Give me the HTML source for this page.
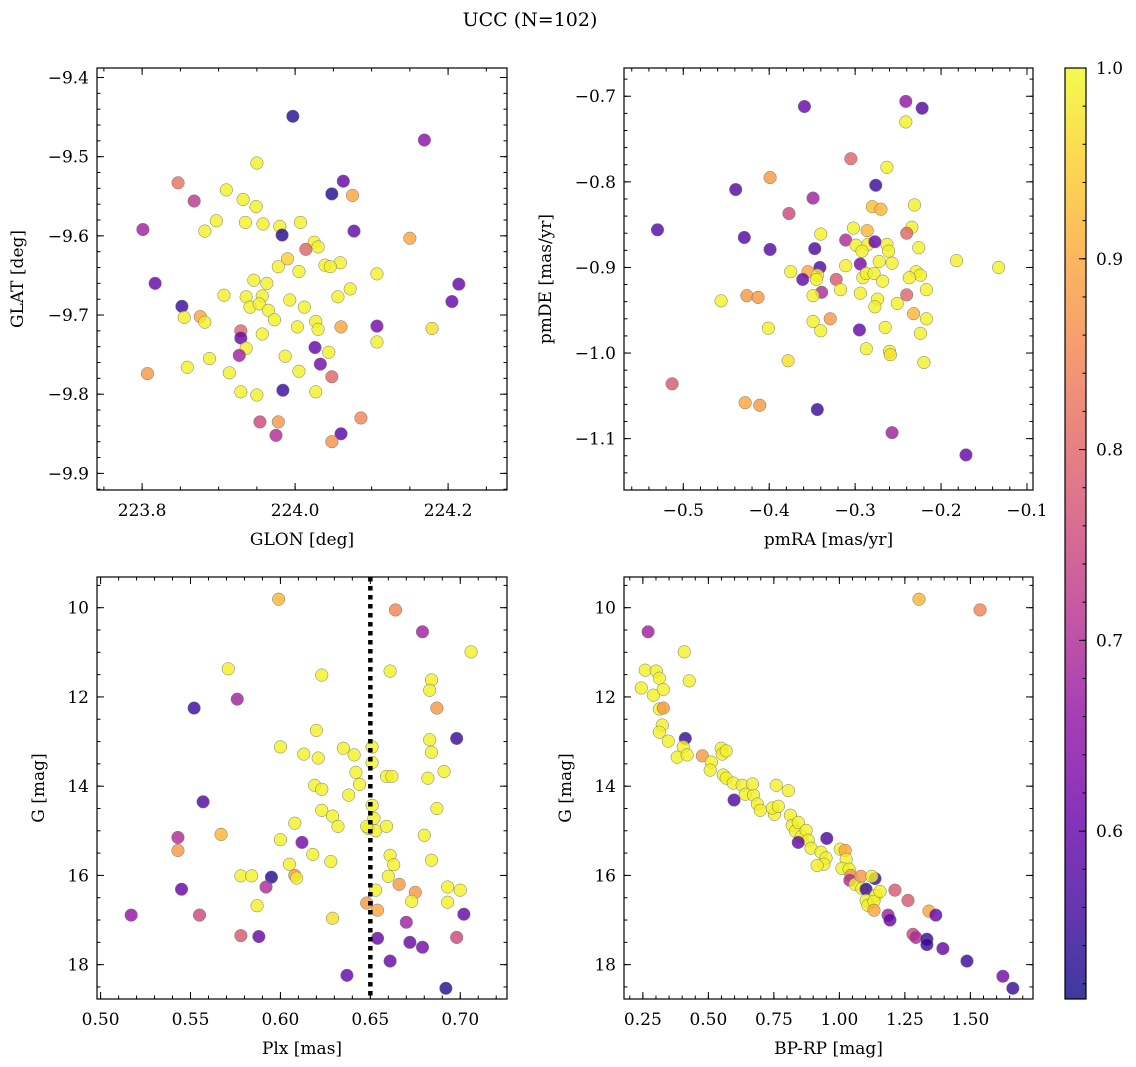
<!DOCTYPE html>
<html><head><meta charset="utf-8">
<style>
html,body{margin:0;padding:0;background:#fff;}
svg{display:block;font-family:"DejaVu Serif","Liberation Serif",serif;}
</style></head>
<body>
<svg id="fig" width="1136" height="1067" viewBox="0 0 1136 1067" xmlns="http://www.w3.org/2000/svg">
<text x="530" y="26" font-size="19" text-anchor="middle">UCC (N=102)</text>
</svg>
<script>
// ---------- data ----------
const glon=[223.997,224.169,223.950,223.847,223.868,224.048,224.063,224.075,223.910,223.932,223.949,223.897,223.801,223.882,223.935,223.958,223.980,223.983,224.007,224.077,224.150,224.025,224.030,224.014,223.990,224.059,224.039,224.046,224.005,223.978,224.107,223.817,224.214,223.946,223.963,224.072,223.907,223.936,223.957,223.993,224.056,223.852,223.855,223.876,223.882,223.941,223.953,223.965,223.973,224.012,224.027,224.030,224.003,224.060,224.107,224.179,224.205,223.957,223.929,223.929,224.107,224.026,224.044,223.936,223.927,223.987,223.888,224.033,223.859,223.914,224.005,224.048,223.807,223.984,223.929,223.950,224.027,224.086,223.954,223.978,224.060,223.975,224.048];
const glat=[-9.449,-9.479,-9.508,-9.533,-9.556,-9.547,-9.531,-9.549,-9.542,-9.554,-9.563,-9.581,-9.592,-9.594,-9.583,-9.585,-9.588,-9.599,-9.583,-9.594,-9.603,-9.608,-9.614,-9.617,-9.629,-9.634,-9.637,-9.639,-9.645,-9.639,-9.648,-9.660,-9.661,-9.656,-9.660,-9.667,-9.675,-9.677,-9.676,-9.681,-9.677,-9.689,-9.703,-9.702,-9.709,-9.690,-9.686,-9.694,-9.706,-9.690,-9.708,-9.718,-9.715,-9.715,-9.714,-9.717,-9.683,-9.724,-9.720,-9.729,-9.734,-9.741,-9.747,-9.742,-9.751,-9.752,-9.755,-9.762,-9.766,-9.773,-9.771,-9.778,-9.774,-9.795,-9.797,-9.801,-9.797,-9.830,-9.835,-9.835,-9.850,-9.852,-9.860];
const prob1=[0.53,0.65,0.99,0.82,0.72,0.53,0.6,0.9,0.99,0.99,0.99,0.99,0.68,0.99,0.99,0.99,0.99,0.53,0.99,0.6,0.9,0.99,0.99,0.8,0.95,0.99,0.99,0.99,0.99,0.99,0.99,0.6,0.6,0.99,0.99,0.99,0.99,0.99,0.99,0.99,0.99,0.55,0.99,0.9,0.99,0.99,0.99,0.99,0.99,0.99,0.99,0.99,0.99,0.9,0.62,0.97,0.6,0.99,0.8,0.6,0.99,0.6,0.99,0.99,0.68,0.99,0.99,0.62,0.99,0.99,0.99,0.8,0.88,0.55,0.99,0.99,0.99,0.85,0.75,0.88,0.58,0.7,0.87];

const pmra=[-0.359,-0.241,-0.222,-0.241,-0.305,-0.263,-0.399,-0.276,-0.439,-0.349,-0.280,-0.270,-0.231,-0.377,-0.302,-0.286,-0.234,-0.530,-0.240,-0.340,-0.429,-0.399,-0.347,-0.311,-0.299,-0.285,-0.263,-0.261,-0.226,-0.292,-0.277,-0.272,-0.257,-0.182,-0.133,-0.341,-0.294,-0.311,-0.375,-0.355,-0.344,-0.361,-0.345,-0.322,-0.291,-0.287,-0.229,-0.224,-0.278,-0.268,-0.237,-0.217,-0.339,-0.294,-0.317,-0.456,-0.426,-0.413,-0.349,-0.274,-0.240,-0.277,-0.251,-0.232,-0.217,-0.329,-0.349,-0.401,-0.340,-0.295,-0.265,-0.224,-0.287,-0.260,-0.259,-0.220,-0.378,-0.513,-0.428,-0.411,-0.344,-0.257,-0.171];
const pmde=[-0.712,-0.706,-0.714,-0.730,-0.773,-0.783,-0.795,-0.804,-0.809,-0.819,-0.829,-0.832,-0.827,-0.837,-0.854,-0.857,-0.853,-0.856,-0.860,-0.861,-0.865,-0.879,-0.878,-0.868,-0.874,-0.873,-0.873,-0.881,-0.877,-0.881,-0.870,-0.893,-0.895,-0.892,-0.900,-0.900,-0.896,-0.898,-0.905,-0.905,-0.909,-0.914,-0.914,-0.914,-0.912,-0.907,-0.905,-0.909,-0.907,-0.916,-0.912,-0.926,-0.929,-0.930,-0.926,-0.939,-0.933,-0.935,-0.933,-0.937,-0.932,-0.946,-0.942,-0.954,-0.960,-0.960,-0.963,-0.971,-0.974,-0.973,-0.970,-0.977,-0.995,-0.998,-1.002,-1.011,-1.009,-1.036,-1.058,-1.061,-1.066,-1.093,-1.119];
const prob2=[0.6,0.66,0.58,0.99,0.8,0.99,0.88,0.55,0.58,0.68,0.93,0.92,0.99,0.75,0.99,0.92,0.99,0.58,0.8,0.99,0.58,0.58,0.57,0.7,0.99,0.99,0.99,0.99,0.99,0.99,0.6,0.99,0.99,0.99,0.99,0.57,0.62,0.99,0.99,0.9,0.99,0.6,0.99,0.78,0.99,0.99,0.99,0.99,0.99,0.99,0.99,0.99,0.7,0.99,0.99,0.99,0.88,0.88,0.99,0.99,0.8,0.99,0.99,0.92,0.99,0.88,0.99,0.99,0.99,0.6,0.99,0.99,0.99,0.99,0.97,0.99,0.97,0.78,0.9,0.88,0.55,0.68,0.6];

const plx=[0.599,0.664,0.679,0.706,0.571,0.661,0.623,0.576,0.684,0.683,0.552,0.687,0.620,0.698,0.684,0.600,0.683,0.613,0.621,0.635,0.641,0.651,0.651,0.642,0.659,0.662,0.682,0.644,0.691,0.619,0.623,0.557,0.638,0.608,0.623,0.629,0.651,0.652,0.649,0.653,0.648,0.632,0.659,0.680,0.687,0.612,0.567,0.543,0.543,0.600,0.618,0.605,0.628,0.661,0.663,0.684,0.578,0.587,0.595,0.608,0.609,0.660,0.666,0.693,0.545,0.592,0.653,0.700,0.675,0.673,0.693,0.584,0.648,0.654,0.555,0.517,0.629,0.702,0.670,0.578,0.588,0.654,0.698,0.672,0.679,0.661,0.637,0.692];
const g3=[9.81,10.05,10.54,10.99,11.37,11.42,11.51,12.05,11.62,11.85,12.25,12.25,12.75,12.93,13.24,13.12,12.96,13.28,13.37,13.15,13.30,13.12,13.47,13.69,13.78,13.78,13.82,13.96,13.67,13.98,14.07,14.35,14.20,14.83,14.54,14.67,14.43,14.72,14.95,15.00,14.90,14.90,14.90,15.10,14.50,15.26,15.08,15.15,15.44,15.20,15.53,15.75,15.69,15.55,15.76,15.66,16.01,16.68,16.04,16.00,16.06,16.02,16.20,16.26,16.31,16.26,16.33,16.33,16.38,16.58,16.60,16.01,16.62,16.78,16.89,16.89,16.96,16.87,17.05,17.35,17.37,17.41,17.39,17.50,17.61,17.92,18.24,18.53];
const prob3=[0.92,0.85,0.68,0.99,0.99,0.99,0.99,0.68,0.99,0.99,0.55,0.88,0.99,0.55,0.99,0.99,0.99,0.99,0.99,0.99,0.99,0.99,0.99,0.99,0.99,0.99,0.99,0.99,0.99,0.99,0.99,0.57,0.99,0.99,0.99,0.99,0.99,0.99,0.99,0.99,0.99,0.99,0.99,0.99,0.99,0.62,0.92,0.7,0.88,0.99,0.99,0.99,0.99,0.99,0.99,0.99,0.99,0.99,0.53,0.88,0.99,0.99,0.88,0.99,0.6,0.7,0.99,0.99,0.88,0.99,0.99,0.99,0.88,0.9,0.75,0.66,0.97,0.6,0.68,0.78,0.6,0.6,0.75,0.6,0.62,0.6,0.6,0.53];

const bprp=[0.270,1.304,1.537,0.259,0.244,0.301,0.313,0.408,0.427,0.290,0.328,0.313,0.328,0.324,0.313,0.347,0.412,0.404,0.381,0.419,0.477,0.511,0.507,0.549,0.553,0.568,0.557,0.568,0.595,0.629,0.598,0.641,0.672,0.668,0.687,0.698,0.752,0.744,0.759,0.767,0.805,0.813,0.820,0.832,0.843,0.854,0.873,0.881,0.892,0.843,0.930,0.949,0.941,0.915,0.952,1.003,1.022,1.026,1.010,1.037,1.044,1.040,1.060,1.082,1.086,1.102,1.136,1.124,1.139,1.102,1.109,1.132,1.155,1.132,1.212,1.262,1.342,1.186,1.193,1.368,1.281,1.292,1.334,1.334,1.395,1.487,1.624,1.662];
const g4=[10.54,9.81,10.05,11.40,11.80,11.42,11.58,10.99,11.64,11.96,11.83,12.27,12.25,12.63,12.79,12.99,12.93,13.12,13.35,13.30,13.32,13.46,13.64,13.15,13.28,13.21,13.75,13.82,13.93,13.98,14.31,14.18,14.20,13.95,14.40,14.54,14.63,14.49,13.98,14.45,14.10,14.65,14.88,15.01,14.81,15.13,14.99,15.21,15.39,15.26,15.48,15.61,15.75,15.78,15.17,15.41,15.44,15.64,15.84,15.86,16.00,16.11,16.20,16.02,16.29,16.31,16.07,16.02,16.45,16.56,16.67,16.58,16.36,16.78,16.33,16.56,16.80,16.89,17.00,16.89,17.32,17.39,17.43,17.55,17.64,17.92,18.26,18.53];
const prob4=[0.68,0.92,0.85,0.99,0.99,0.99,0.99,0.99,0.99,0.99,0.99,0.99,0.88,0.99,0.99,0.99,0.55,0.99,0.99,0.99,0.88,0.99,0.99,0.99,0.99,0.99,0.99,0.99,0.99,0.99,0.57,0.99,0.99,0.99,0.99,0.99,0.99,0.99,0.99,0.99,0.99,0.99,0.99,0.99,0.99,0.99,0.99,0.99,0.99,0.6,0.99,0.99,0.99,0.99,0.57,0.99,0.9,0.99,0.99,0.99,0.88,0.7,0.99,0.88,0.99,0.55,0.55,0.99,0.99,0.99,0.99,0.99,0.99,0.9,0.78,0.78,0.9,0.68,0.6,0.6,0.75,0.7,0.55,0.55,0.6,0.55,0.62,0.55];

const cbTicks=[0.6,0.7,0.8,0.9,1.0];
const VMIN=0.512, VMAX=1.0;

// ---------- helpers ----------
const NS="http://www.w3.org/2000/svg";
const svg=document.getElementById('fig');
function mk(tag,attrs,parent){const e=document.createElementNS(NS,tag);for(const k in attrs)e.setAttribute(k,attrs[k]);(parent||svg).appendChild(e);return e;}
const stops=[[13,8,135],[65,4,157],[106,0,168],[143,13,164],[177,42,144],[204,71,120],[225,100,98],[242,132,75],[252,166,54],[252,206,37],[240,249,33]];
function plasma(t){t=Math.max(0,Math.min(1,t));const f=t*10,i=Math.min(9,Math.floor(f)),u=f-i;const a=stops[i],b=stops[i+1];return 'rgb('+a.map((v,k)=>Math.round(v+(b[k]-v)*u)).join(',')+')';}
function cnorm(v){return (v-VMIN)/(VMAX-VMIN);}
function fmt(v,d){const s=Math.abs(v).toFixed(d);return (v<-1e-9?'\u2212':'')+s;}

function panel(o){
  const g=mk('g',{});
  
  
  const sx=v=>o.L+(v-o.x0)/(o.x1-o.x0)*(o.R-o.L);
  const sy=v=>o.T+(v-o.y0)/(o.y1-o.y0)*(o.B-o.T);
  const pg=mk('g',{},g);
  
  
  for(let i=0;i<o.xs.length;i++){
    const c=mk('circle',{cx:sx(o.xs[i]),cy:sy(o.ys[i]),r:6.3,fill:plasma(cnorm(o.cs[i])),'fill-opacity':0.8,stroke:'#777','stroke-width':0.5},pg);
    
    
  }
  if(o.vline!==undefined){
    const l=mk('line',{x1:sx(o.vline),x2:sx(o.vline),y1:o.T,y2:o.B,stroke:'#000','stroke-width':4.5,'stroke-dasharray':'4.5 4.5'},g);
    
    
  }
  const fr=mk('rect',{x:o.L,y:o.T,width:o.R-o.L,height:o.B-o.T,fill:'none',stroke:'#000','stroke-width':1.2},g);
  
  
  const tg=mk('g',{stroke:'#000','stroke-width':1},g);
  const eps=1e-9;
  function ticksX(step,len){const s=Math.ceil(Math.min(o.x0,o.x1)/step-eps);for(let k=s;k*step<=Math.max(o.x0,o.x1)+eps;k++){const x=sx(k*step);mk('line',{x1:x,x2:x,y1:o.B,y2:o.B-len},tg);mk('line',{x1:x,x2:x,y1:o.T,y2:o.T+len},tg);}}
  function ticksY(step,len){const lo=Math.min(o.y0,o.y1),hi=Math.max(o.y0,o.y1);const s=Math.ceil(lo/step-eps);for(let k=s;k*step<=hi+eps;k++){const y=sy(k*step);mk('line',{x1:o.L,x2:o.L+len,y1:y,y2:y},tg);mk('line',{x1:o.R,x2:o.R-len,y1:y,y2:y},tg);}}
  ticksX(o.xminor,3.5);ticksY(o.yminor,3.5);ticksX(o.xmajor,7);ticksY(o.ymajor,7);
  {const s=Math.ceil(Math.min(o.x0,o.x1)/o.xmajor-eps);for(let k=s;k*o.xmajor<=Math.max(o.x0,o.x1)+eps;k++){const v=k*o.xmajor;const t=mk('text',{x:sx(v),y:o.B+26,'font-size':17,'text-anchor':'middle'},g);t.textContent=fmt(v,o.xd);}}
  {const lo=Math.min(o.y0,o.y1),hi=Math.max(o.y0,o.y1);const s=Math.ceil(lo/o.ymajor-eps);for(let k=s;k*o.ymajor<=hi+eps;k++){const v=k*o.ymajor;const t=mk('text',{x:o.L-8,y:sy(v)+6,'font-size':17,'text-anchor':'end'},g);t.textContent=fmt(v,o.yd);}}
  const xl=mk('text',{x:(o.L+o.R)/2,y:o.B+55,'font-size':17,'text-anchor':'middle'},g);xl.textContent=o.xlabel;
  
  
  const yl=mk('text',{x:0,y:0,'font-size':17,'text-anchor':'middle',transform:'translate('+o.ylx+','+((o.T+o.B)/2)+') rotate(-90)'},g);yl.textContent=o.ylabel;
  
  
}

panel({name:'glon-glat-panel',L:97,R:507,T:68,B:490,x0:223.741,x1:224.277,y0:-9.388,y1:-9.921,xs:glon,ys:glat,cs:prob1,xmajor:0.2,xminor:0.05,ymajor:0.1,yminor:0.02,xd:1,yd:1,xlabel:'GLON [deg]',ylabel:'GLAT [deg]',ylx:23});
panel({name:'pm-panel',L:624,R:1033,T:68,B:490,x0:-0.569,x1:-0.093,y0:-0.667,y1:-1.160,xs:pmra,ys:pmde,cs:prob2,xmajor:0.1,xminor:0.02,ymajor:0.1,yminor:0.02,xd:1,yd:1,xlabel:'pmRA [mas/yr]',ylabel:'pmDE [mas/yr]',ylx:551});
panel({name:'plx-g-panel',L:97,R:507,T:577,B:999,x0:0.498,x1:0.726,y0:9.312,y1:18.77,xs:plx,ys:g3,cs:prob3,xmajor:0.05,xminor:0.01,ymajor:2,yminor:0.5,xd:2,yd:0,xlabel:'Plx [mas]',ylabel:'G [mag]',ylx:44,vline:0.65});
panel({name:'cmd-panel',L:624,R:1033,T:577,B:999,x0:0.178,x1:1.739,y0:9.312,y1:18.77,xs:bprp,ys:g4,cs:prob4,xmajor:0.25,xminor:0.05,ymajor:2,yminor:0.5,xd:2,yd:0,xlabel:'BP-RP [mag]',ylabel:'G [mag]',ylx:571});

// ---------- colorbar ----------
(function(){
  const L=1065,R=1086,T=68,B=999;
  const defs=mk('defs',{});
  const lg=mk('linearGradient',{id:'cbg',x1:0,y1:1,x2:0,y2:0},defs);
  for(let i=0;i<=20;i++){mk('stop',{offset:(i/20),'stop-color':plasma(i/20),'stop-opacity':0.8},lg);}
  const g=mk('g',{});
  
  
  mk('rect',{x:L,y:T,width:R-L,height:B-T,fill:'url(#cbg)',stroke:'#000','stroke-width':1.2},g);
  const sy=v=>B-(v-VMIN)/(VMAX-VMIN)*(B-T);
  for(let k=Math.ceil(VMIN/0.02-1e-9);k*0.02<=VMAX+1e-9;k++){const y=sy(k*0.02);mk('line',{x1:R,x2:R-3.5,y1:y,y2:y,stroke:'#000','stroke-width':1},g);}
  cbTicks.forEach(v=>{const y=sy(v);mk('line',{x1:R,x2:R-7,y1:y,y2:y,stroke:'#000','stroke-width':1},g);
    const t=mk('text',{x:R+10,y:y+6,'font-size':17},g);t.textContent=v.toFixed(1);
    
    });
})();
</script>
</body></html>
